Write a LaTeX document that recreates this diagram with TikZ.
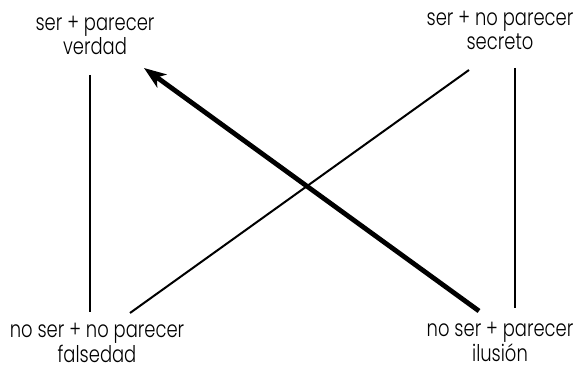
\documentclass[tikz,border=0pt]{standalone}
\usepackage{fontspec}
\setmainfont{Poppins}[UprightFont=* Light,FakeStretch=0.78]
\usetikzlibrary{arrows.meta}
\begin{document}
\begin{tikzpicture}[x=1pt,y=-1pt,
  lbl/.style={align=center,anchor=base,font=\fontsize{23}{24.5}\selectfont,inner sep=0pt},
  thin/.style={line width=2pt},
  thick/.style={line width=4.8pt,-{Stealth[length=22pt,width=16pt,inset=6pt]}}]
\useasboundingbox (0,0) rectangle (577,371);
\node[lbl] (tl) at (95,55) {ser + parecer\\verdad};
\node[lbl] (tr) at (500,50) {ser + no parecer\\secreto};
\node[lbl] (bl) at (97,362) {no ser + no parecer\\falsedad};
\node[lbl] (br) at (500,361) {no ser + parecer\\ilusión};
\coordinate (lt) at (90,75); \coordinate (lb) at (90,312);
\coordinate (rt) at (515,68); \coordinate (rb) at (515,308);
\coordinate (ds) at (130,313); \coordinate (de) at (469,70);
\coordinate (as) at (479,311); \coordinate (ae) at (144,68);
\draw[thin] (lt) -- (lb);
\draw[thin] (rt) -- (rb);
\draw[thin] (ds) -- (de);
\draw[thick] (as) -- (ae);
\end{tikzpicture}
\end{document}
